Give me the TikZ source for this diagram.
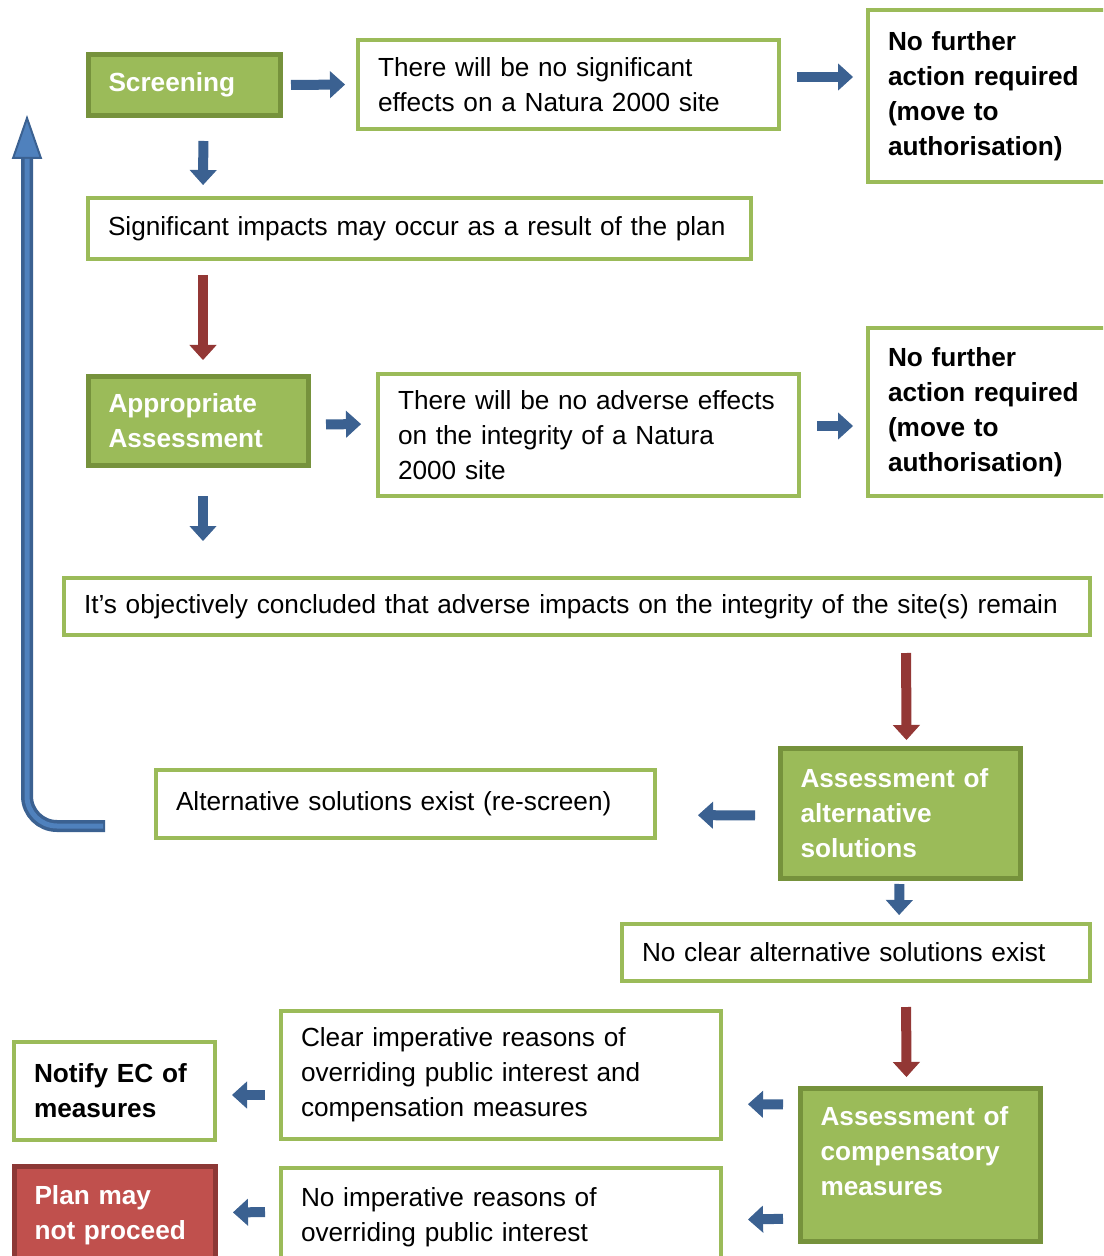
\documentclass[tikz,border=0pt]{standalone}
\usepackage{fontspec}
\setmainfont{Liberation Sans}
\usepackage{xcolor}
\usepackage{tikz}
\usetikzlibrary{arrows.meta,positioning,calc}

\definecolor{boxgreen}{HTML}{9BBB59}
\definecolor{darkgreen}{HTML}{76923C}
\definecolor{planred}{HTML}{C0504D}
\definecolor{darkred}{HTML}{8C3836}
\definecolor{arrowblue}{HTML}{3B6191}
\definecolor{lightblue}{HTML}{4F81BD}
\definecolor{arrowred}{HTML}{933735}

\begin{document}
\begin{tikzpicture}[x=0.5pt,y=-0.5pt,
	outline/.style={draw=boxgreen, line width=2pt, fill=white, anchor=north west, align=left,
		inner xsep=10pt, inner ysep=0pt, font=\fontsize{13.1pt}{17.5pt}\selectfont},
	stage/.style={outline, draw=darkgreen, fill=boxgreen, line width=2.5pt, text=white,
		font=\fontsize{13.1pt}{17.5pt}\selectfont\bfseries},
	stop/.style={stage, draw=darkred, fill=planred},
	result/.style={outline, font=\fontsize{13.1pt}{17.5pt}\selectfont\bfseries},
	bluearrow/.style={draw=arrowblue, line width=5pt, -{Triangle[width=13.5pt,length=7.5pt,line width=0.5pt]}},
	redarrow/.style={bluearrow, draw=arrowred},
	loopback/.style={draw=arrowblue, line width=6pt, rounded corners=15pt,
		-{Triangle[width=15pt,length=22pt,line width=1pt,fill=lightblue]}}]

		\useasboundingbox (0,0) rectangle (1103,1256);
		\clip (0,0) rectangle (1103,1256);

		\node[stage, minimum width=96pt, text width=76pt, minimum height=30.5pt] (screen) at (86,52) {Screening};
		\node[outline, minimum width=210.5pt, text width=190.5pt, minimum height=44.5pt] (nosig) at (356,38) {There will be no significant\\effects on a Natura 2000 site};
		\node[result, minimum width=125pt, text width=105pt, minimum height=86pt] (nfa1) at (866,8) {No further\\action required\\(move to\\authorisation)};
		\node[outline, minimum width=331.5pt, text width=311.5pt, minimum height=30.5pt] (sig) at (86,196) {Significant impacts may occur as a result of the plan};

		\node[stage, minimum width=110pt, text width=90pt, minimum height=44.5pt] (appr) at (86,374) {Appropriate\\Assessment};
		\node[outline, minimum width=210.5pt, text width=190.5pt, minimum height=61pt] (noadv) at (376,372) {There will be no adverse effects\\on the integrity of a Natura\\2000 site};
		\node[result, minimum width=125pt, text width=105pt, minimum height=84pt] (nfa2) at (866,326) {No further\\action required\\(move to\\authorisation)};
		\node[outline, minimum width=513pt, text width=493pt, minimum height=28.5pt] (concl) at (62,576) {It’s objectively concluded that adverse impacts on the integrity of the site(s) remain};

		\node[stage, minimum width=120pt, text width=100pt, minimum height=65pt] (altass) at (778,746) {Assessment of\\alternative\\solutions};
		\node[outline, minimum width=249.5pt, text width=229.5pt, minimum height=34pt] (altexist) at (154,768) {Alternative solutions exist (re-screen)};
		\node[outline, minimum width=234pt, text width=214pt, minimum height=28.5pt] (noclear) at (620,922) {No clear alternative solutions exist};

		\node[stage, minimum width=120pt, text width=100pt, minimum height=76.5pt, text depth=49pt] (compass) at (798,1086) {Assessment of\\compensatory\\measures};
		\node[outline, minimum width=220pt, text width=200pt, minimum height=64pt] (clear) at (279,1009) {Clear imperative reasons of\\overriding public interest and\\compensation measures};
		\node[outline, minimum width=220pt, text width=200pt, minimum height=49pt] (noimp) at (279,1166) {No imperative reasons of\\overriding public interest};
		\node[result, minimum width=100.5pt, text width=80.5pt, minimum height=49pt] (notify) at (12,1040) {Notify EC of\\measures};
		\node[stop, minimum width=100.5pt, text width=80.5pt, minimum height=49pt] (plan) at (12,1164) {Plan may\\not proceed};

		\draw[bluearrow, shorten <=4pt, shorten >=5.5pt] (screen.east) -- (nosig.west);
		\draw[bluearrow, shorten <=8pt, shorten >=6.5pt] ($(nosig.east)+(0,-7.5)$) -- ($(nfa1.west)+(0,-19)$);
		\draw[bluearrow, shorten <=11.5pt, shorten >=5.5pt] ($(screen.south)+(19,0)$) -- ($(sig.north)+(-216.5,0)$);
		\draw[redarrow, shorten <=7pt, shorten >=7pt] ($(sig.south)+(-216.5,0)$) -- ($(appr.north)+(4.5,0)$);
		\draw[bluearrow, shorten <=7.5pt, shorten >=7.5pt] ($(appr.east)+(0,3.5)$) -- ($(noadv.west)+(0,-11)$);
		\draw[bluearrow, shorten <=8pt, shorten >=6.5pt] ($(noadv.east)+(0,-9)$) -- ($(nfa2.west)+(0,14)$);
		\draw[bluearrow, shorten <=14pt, shorten >=17.5pt] ($(appr.south)+(4.5,0)$) -- ($(concl.north)+(-374,0)$);
		\draw[redarrow, shorten <=8pt, shorten >=3pt] ($(concl.south)+(329,0)$) -- ($(altass.north)+(6,0)$);
		\draw[bluearrow, shorten <=11.5pt, shorten >=20.5pt] ($(altass.west)+(0,2)$) -- ($(altexist.east)+(0,11)$);
		\draw[bluearrow, shorten <=1.5pt, shorten >=3.5pt] ($(altass.south)+(-1,0)$) -- ($(noclear.north)+(43,0)$);
		\draw[redarrow, shorten <=12pt, shorten >=4.5pt] ($(noclear.south)+(50,0)$) -- ($(compass.north)+(-14,0)$);
		\draw[bluearrow, shorten <=7.5pt, shorten >=12.5pt] ($(compass.west)+(0,-60.5)$) -- ($(clear.east)+(0,29)$);
		\draw[bluearrow, shorten <=7.5pt, shorten >=12.5pt] ($(compass.west)+(0,53.5)$) -- ($(noimp.east)+(0,3)$);
		\draw[bluearrow, shorten <=7pt, shorten >=7.5pt] ($(clear.west)+(0,20)$) -- ($(notify.east)+(0,4)$);
		\draw[bluearrow, shorten <=7pt, shorten >=7.5pt] ($(noimp.west)+(0,-5)$) -- ($(plan.east)+(0,-3)$);

		\coordinate (rescreen) at (27,115);
		\draw[loopback, shorten <=24.5pt] ($(altexist.west)+(0,22)$) -- (27,826) -- (rescreen);
		\draw[draw=lightblue, line width=2.5pt, rounded corners=15pt, shorten <=25.5pt, shorten >=22pt] ($(altexist.west)+(0,22)$) -- (27,826) -- (rescreen);
	\end{tikzpicture}
\end{document}
